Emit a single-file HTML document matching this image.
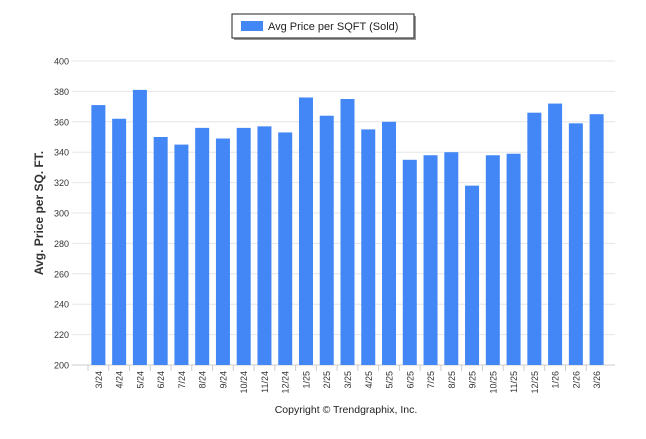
<!DOCTYPE html>
<html><head><meta charset="utf-8"><style>
body{margin:0;background:#fff;font-family:"Liberation Sans",sans-serif;}
</style></head><body>
<svg id="c" width="646" height="434" xmlns="http://www.w3.org/2000/svg">
<g>
<rect x="234" y="16" width="182" height="24" fill="#999"/>
<rect x="232" y="14" width="182" height="24" fill="#fff" stroke="#222" stroke-width="1"/>
<rect x="241" y="21" width="22" height="10" fill="#4287f5"/>
<text x="268" y="30" font-size="11" fill="#222">Avg Price per SQFT (Sold)</text>
</g>
<text transform="translate(43,213) rotate(-90)" text-anchor="middle" font-size="12" font-weight="bold" fill="#333">Avg. Price per SQ. FT.</text>
<g id="grid"></g><g id="bars"></g><g id="xl"></g>
<text x="346" y="413" text-anchor="middle" font-size="10.5" fill="#222">Copyright © Trendgraphix, Inc.</text>
</svg>
<script>
const categories=["3/24","4/24","5/24","6/24","7/24","8/24","9/24","10/24","11/24","12/24","1/25","2/25","3/25","4/25","5/25","6/25","7/25","8/25","9/25","10/25","11/25","12/25","1/26","2/26","3/26"];
const values=[371,362,381,350,345,356,349,356,357,353,376,364,375,355,360,335,338,340,318,338,339,366,372,359,365];
const ticks=[200,220,240,260,280,300,320,340,360,380,400];
const NS="http://www.w3.org/2000/svg";
const L=88,R=607,T=61,B=365,ymin=200,ymax=400;
const y=v=>B-(v-ymin)/(ymax-ymin)*(B-T);
const bw=(R-L)/categories.length;
const x=i=>L+bw*(i+0.5);
function mk(t,a,p){const e=document.createElementNS(NS,t);for(const k in a)e.setAttribute(k,a[k]);p.appendChild(e);return e;}
const g=document.getElementById('grid');
ticks.forEach(t=>{
 const l=mk('line',{x1:72,x2:R+8,y1:y(t),y2:y(t),stroke:t===200?'#ccc':'#e6e6e6','stroke-width':1},g);
 
 
 const tx=mk('text',{x:69,y:y(t)+3.5,'text-anchor':'end','font-size':9,fill:'#333'},g);
 tx.textContent=t;
 
 
});
const bg=document.getElementById('bars'),xl=document.getElementById('xl');
categories.forEach((c,i)=>{
 const r=mk('rect',{x:x(i)-7,y:y(values[i]),width:14,height:B-y(values[i]),fill:'#4287f5'},bg);
 
 
 const tk=mk('line',{x1:x(i)-bw/2,x2:x(i)-bw/2,y1:B,y2:B+6,stroke:'#ccc'},xl);
 
 
 const t=mk('text',{transform:`translate(${x(i)+3.5},${B+6}) rotate(-90)`,'text-anchor':'end','font-size':9,fill:'#333'},xl);
 t.textContent=c;
 
 
});
</script>
</body></html>
